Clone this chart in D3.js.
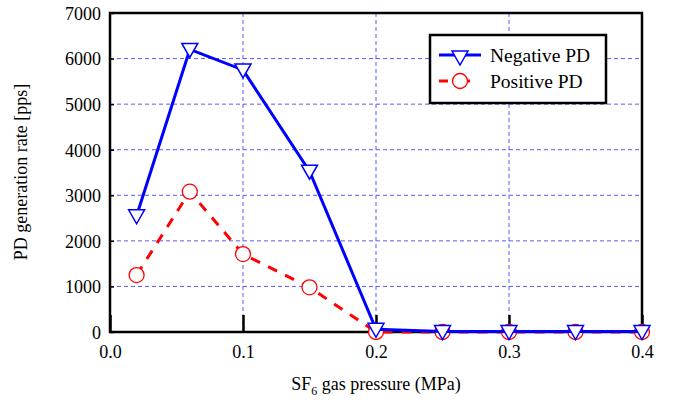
<!DOCTYPE html>
<html><head><meta charset="utf-8">
<script src="https://cdn.jsdelivr.net/npm/d3@7"></script>
<style>body{margin:0;background:#fff}svg{display:block}</style>
</head><body><svg id="c" width="676" height="405"></svg>
<script>
const pressure = [0.02, 0.06, 0.1, 0.15, 0.2, 0.25, 0.3, 0.35, 0.4];
const negativePD = [2550, 6200, 5750, 3530, 60, 10, 10, 10, 10];
const positivePD = [1250, 3080, 1710, 980, 0, 0, 0, 0, 0];
const xTicks = [0.0, 0.1, 0.2, 0.3, 0.4];
const yTicks = [0, 1000, 2000, 3000, 4000, 5000, 6000, 7000];
const seriesNames = ["Negative PD", "Positive PD"];

const FONT = "'Liberation Serif'";
const svg = d3.select("#c");
const m = {l:110, r:642, t:13, b:332};
const x = d3.scaleLinear().domain([0, 0.4]).range([m.l, m.r]);
const y = d3.scaleLinear().domain([0, 7000]).range([m.b, m.t]);

// grid
const grid = svg.append("g").attr("stroke", "#5a5aff").attr("stroke-width", 1).attr("stroke-dasharray", "4,3");
grid.selectAll(".gy").data(yTicks.slice(1, -1)).join("line")
  .attr("x1", m.l).attr("x2", m.r).attr("y1", d => y(d)).attr("y2", d => y(d));
grid.selectAll(".gx").data(xTicks.slice(1, -1)).join("line")
  .attr("y1", m.t).attr("y2", m.b).attr("x1", d => x(d)).attr("x2", d => x(d));

// axes
const xAxis = svg.append("g").attr("transform", `translate(0,${m.b})`)
  .call(d3.axisBottom(x).tickValues(xTicks).tickFormat(d3.format(".1f")).tickSize(-17).tickPadding(26));
xAxis.attr("font-size", 18);
xAxis.select(".domain").remove();
xAxis.selectAll("line").attr("stroke", "#000").attr("stroke-width", 2.5);
xAxis.selectAll("text").attr("dy", 0);

const yAxis = svg.append("g").attr("transform", `translate(${m.l},0)`)
  .call(d3.axisLeft(y).tickValues(yTicks).tickFormat(d3.format("d")).tickSize(-4).tickPadding(9));
yAxis.attr("font-size", 18);
yAxis.select(".domain").remove();
yAxis.selectAll("line").attr("stroke", "#000").attr("stroke-width", 1.5);
yAxis.selectAll("text").attr("dy", "0.35em");

// frame
svg.append("rect").attr("x", m.l).attr("y", m.t).attr("width", m.r - m.l).attr("height", m.b - m.t)
  .attr("fill", "none").attr("stroke", "#000").attr("stroke-width", 2.5);

// titles
const xt = svg.append("text").attr("x", 376).attr("y", 390).attr("text-anchor", "middle").attr("font-size", 18);
xt.append("tspan").text("SF");
xt.append("tspan").text("6").attr("font-size", 12).attr("dy", 5);
xt.append("tspan").text(" gas pressure (MPa)").attr("dy", -5);
svg.append("text").attr("transform", "translate(27,172) rotate(-90)").attr("text-anchor", "middle")
  .attr("font-size", 18).text("PD generation rate [pps]");

// series
const neg = pressure.map((p, i) => [p, negativePD[i]]);
const pos = pressure.map((p, i) => [p, positivePD[i]]);
const line = d3.line().x(d => x(d[0])).y(d => y(d[1]));
svg.append("path").datum(pos).attr("d", line).attr("fill", "none").attr("stroke", "#ff0000")
  .attr("stroke-width", 3).attr("stroke-dasharray", "10,9");
svg.selectAll(".pc").data(pos).join("circle").attr("cx", d => x(d[0])).attr("cy", d => y(d[1])).attr("r", 7.5)
  .attr("fill", "#fff").attr("stroke", "#ff0000").attr("stroke-width", 1.3);
svg.append("path").datum(neg).attr("d", line).attr("fill", "none").attr("stroke", "#0000ff").attr("stroke-width", 3);
const tri = "M-8,-6L8,-6L0,8Z";
svg.selectAll(".nt").data(neg).join("path").attr("d", tri)
  .attr("transform", d => `translate(${x(d[0])},${y(d[1])})`)
  .attr("fill", "#fff").attr("stroke", "#0000ff").attr("stroke-width", 1.5);

// legend
const lg = svg.append("g");
lg.append("rect").attr("x", 430).attr("y", 35).attr("width", 176).attr("height", 68)
  .attr("fill", "#fff").attr("stroke", "#000").attr("stroke-width", 2.5);
lg.append("line").attr("x1", 439).attr("x2", 481).attr("y1", 55).attr("y2", 55).attr("stroke", "#0000ff").attr("stroke-width", 3);
lg.append("path").attr("d", tri).attr("transform", "translate(460,57)").attr("fill", "#fff").attr("stroke", "#0000ff").attr("stroke-width", 1.5);
lg.append("line").attr("x1", 439).attr("x2", 470).attr("y1", 81).attr("y2", 81).attr("stroke", "#ff0000").attr("stroke-width", 3).attr("stroke-dasharray", "9,13");
lg.append("circle").attr("cx", 460).attr("cy", 81).attr("r", 7.5).attr("fill", "#fff").attr("stroke", "#ff0000").attr("stroke-width", 1.3);
lg.selectAll(".lt").data(seriesNames).join("text").attr("x", 490).attr("y", (d, i) => 62 + i * 26)
  .attr("font-size", 19.5).text(d => d);

// apply serif font to every text as inline style
svg.selectAll("text, tspan").style("font-family", FONT, "important").style("fill", "#000");
</script></body></html>
